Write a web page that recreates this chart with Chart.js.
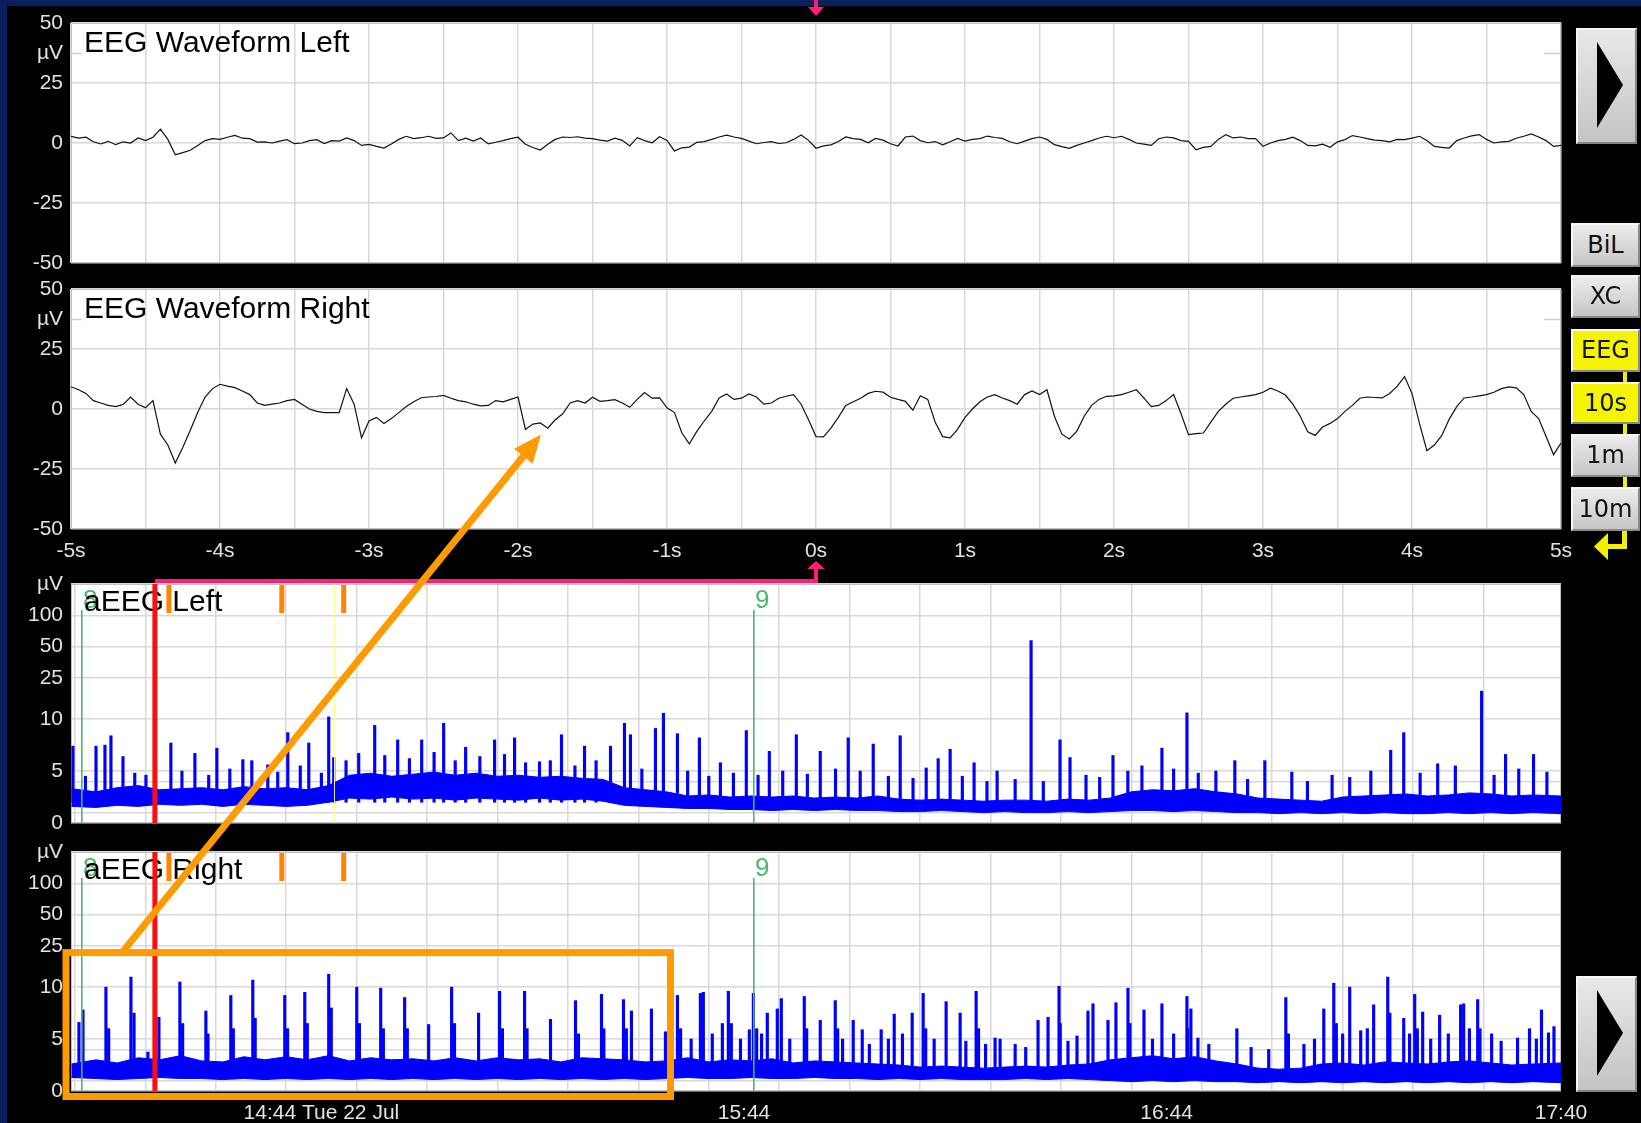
<!DOCTYPE html>
<html>
<head>
<meta charset="utf-8">
<title>EEG / aEEG monitor</title>
<script src="https://cdn.jsdelivr.net/npm/chart.js@4/dist/chart.umd.min.js"></script>
<style>
  html, body { margin: 0; padding: 0; background: #000; }
  #screen { position: relative; width: 1641px; height: 1123px; background: #000; overflow: hidden; font-family: "Liberation Sans", Arial, sans-serif; }
  #frameTop { position: absolute; left: 0; top: 0; width: 1641px; height: 6px; background: #0b1f5e; }
  #frameLeft { position: absolute; left: 0; top: 0; width: 7px; height: 1123px; background: #0b1f5e; }
  canvas.panel { position: absolute; left: 0; }
  #overlay { position: absolute; left: 0; top: 0; pointer-events: none; z-index: 5; }
  .btn { position: absolute; box-sizing: border-box; left: 1571px; width: 69px;
         background: linear-gradient(#ececec, #c6c6c6); border: 2px solid #8a8a8a;
         border-top-color: #f6f6f6; border-left-color: #f6f6f6;
         color: #111; font-family: "DejaVu Sans", sans-serif; font-size: 24px; text-align: center; }
  .btn.on { background: #f4f400; }
  .play { position: absolute; box-sizing: border-box; left: 1576px; width: 61px; height: 116px;
          background: linear-gradient(#e8e8e8, #c4c4c4); border: 2px solid #858585;
          border-top-color: #f6f6f6; border-left-color: #f6f6f6; }
  .play .tri { position: absolute; left: 19px; top: 12px; width: 26px; height: 86px; background: #000;
               clip-path: polygon(0 0, 100% 50%, 0 100%); }
  .ylink { position: absolute; background: #f0f000; }
</style>
</head>
<body>
<div id="screen">
  <div id="frameTop"></div>
  <div id="frameLeft"></div>
  <canvas class="panel" id="eegLeftPanel" width="1600" height="276" style="top:0px"></canvas>
  <canvas class="panel" id="eegRightPanel" width="1600" height="290" style="top:276px"></canvas>
  <canvas class="panel" id="aeegLeftPanel" width="1600" height="270" style="top:566px"></canvas>
  <canvas class="panel" id="aeegRightPanel" width="1600" height="287" style="top:836px"></canvas>
  <canvas id="overlay" width="1641" height="1123"></canvas>

  <div class="play" style="top:28px"><div class="tri"></div></div>
  <div class="btn" style="top:223px;height:44px;line-height:40px">BiL</div>
  <div class="btn" style="top:275px;height:43px;line-height:39px">XC</div>
  <div class="btn on" style="top:329px;height:43px;line-height:39px">EEG</div>
  <div class="btn on" style="top:382px;height:42px;line-height:38px">10s</div>
  <div class="btn" style="top:434px;height:43px;line-height:39px">1m</div>
  <div class="btn" style="top:487px;height:44px;line-height:40px">10m</div>
  <div class="ylink" style="left:1623px;top:372px;width:4px;height:10px"></div>
  <div class="ylink" style="left:1623px;top:424px;width:4px;height:10px"></div>
  <div class="ylink" style="left:1623px;top:477px;width:4px;height:10px"></div>
  <div class="ylink" style="left:1622px;top:531px;width:5px;height:18px"></div>
  <div class="ylink" style="left:1604px;top:544px;width:23px;height:5px"></div>
  <div class="ylink" style="left:1594px;top:533px;width:14px;height:27px;clip-path:polygon(0 50%,100% 0,100% 100%)"></div>
  <div class="play" style="top:976px"><div class="tri"></div></div>
</div>

<script>
// ---------- raw EEG, µV, one sample every 50 ms from -5 s to +5 s ----------
const eegStart = -5;
const eegStep = 0.05;
const eegLeftUv = [
  2.8, 2.0, 2.4, 0.5, -0.4, 0.7, -0.7, 0.5, 0.0, 2.1,
  1.0, 2.4, 5.8, 1.5, -4.9, -4.0, -3.0, -1.0, 1.0, 1.8,
  1.5, 2.4, 3.2, 2.0, 1.8, 0.4, 0.5, 0.0, 0.8, 1.4,
  -0.3, 0.0, 1.0, 1.4, -0.2, 1.0, 0.8, 2.1, 1.0, -1.0,
  -0.6, -1.4, -2.1, -0.4, 1.5, 2.8, 1.8, 2.2, 2.8, 1.9,
  2.1, 4.2, 1.0, 2.0, 0.8, 2.1, -0.4, 0.3, 1.0, 1.8,
  2.4, -0.5, -1.9, -2.9, -0.5, 1.5, 2.5, 2.3, 2.6, 2.0,
  1.8, 1.2, 0.8, 2.0, 1.1, -1.25, 2.2, 1.0, 0.1, 2.6,
  1.1, -3.3, -2.0, -1.7, 0.3, 0.6, 1.5, 2.5, 3.3, 2.5,
  1.9, 0.8, -0.3, 0.2, 0.6, -0.2, 0.1, 1.5, 3.3, 1.1,
  -2.2, -1.2, -0.8, 0.6, 2.5, 1.8, 1.5, 0.1, 1.9, 1.2,
  -0.3, -1.25, 2.5, 2.9, 1.0, 0.1, 0.6, -0.8, 0.5, 1.9,
  0.8, 1.5, 1.8, 2.9, 2.3, 1.9, 0.5, -0.3, 0.8, 1.8,
  2.5, 1.5, -0.7, -1.5, -2.2, -1.0, 0.0, 1.0, 2.1, 2.8,
  2.2, 2.8, 1.5, 0.0, -0.5, -1.0, 1.8, 2.5, 2.1, 1.0,
  0.7, -2.8, -1.8, -1.4, 1.5, 3.5, 2.1, 2.5, 1.8, 1.8,
  -1.4, 0.0, 1.0, 1.5, 2.4, 1.0, -1.0, -1.2, -0.5, -1.8,
  0.5, 1.4, 3.1, 2.5, 1.8, 1.2, 1.0, 0.5, 1.5, 1.4,
  2.0, 2.8, 1.0, -1.4, -1.8, -2.1, 1.0, 2.1, 3.0, 3.5,
  1.5, 0.0, 0.5, 0.7, 2.0, 2.8, 3.75, 2.5, 1.0, -1.4,
  -1.0
];
const eegRightUv = [
  9.3, 8.0, 6.5, 3.5, 2.5, 1.5, 1.0, 1.9, 5.0, 2.0,
  0.5, 3.5, -10.5, -15.0, -22.5, -16.0, -9.0, -1.5, 5.0, 8.5,
  10.3, 9.5, 8.9, 7.5, 6.0, 2.5, 1.5, 2.0, 2.5, 3.5,
  4.0, 2.0, 0.0, -1.0, -1.5, -1.5, -1.5, 8.5, 2.0, -12.0,
  -5.0, -3.5, -6.0, -4.0, -1.5, 1.0, 3.0, 4.7, 5.0, 5.2,
  5.7, 4.5, 3.5, 3.0, 2.0, 1.3, 1.5, 3.5, 3.0, 4.0,
  5.0, -8.5, -6.3, -5.8, -8.0, -4.5, -2.0, 2.5, 3.5, 2.5,
  4.9, 3.2, 3.5, 3.9, 2.5, 0.7, 4.0, 6.9, 4.5, 4.6,
  0.5, -1.5, -10.0, -14.5, -9.3, -5.0, -1.0, 4.6, 6.25, 4.0,
  4.5, 6.25, 5.0, 2.0, 2.5, 4.5, 5.3, 6.0, 2.0, -4.5,
  -11.5, -11.6, -8.0, -3.5, 1.5, 3.0, 4.5, 6.5, 7.4, 7.0,
  4.9, 4.0, 3.2, -0.5, 5.5, 4.0, -5.5, -11.5, -12.0, -8.5,
  -3.5, 0.0, 3.0, 5.0, 6.0, 4.6, 3.5, 2.0, 6.0, 7.5,
  6.0, 8.0, -3.0, -10.5, -12.5, -9.3, -3.0, 1.5, 4.0, 5.3,
  5.5, 6.0, 7.0, 8.0, 4.6, 1.0, 1.5, 3.5, 6.0, -2.0,
  -10.7, -10.3, -10.0, -5.5, -1.0, 2.0, 4.5, 5.0, 5.5, 6.0,
  7.0, 8.7, 7.5, 5.8, 2.0, -3.0, -9.5, -11.0, -7.5, -6.0,
  -4.0, -1.0, 1.5, 4.5, 5.0, 4.8, 4.6, 6.5, 9.4, 13.5,
  6.5, -6.0, -17.4, -15.0, -11.0, -4.2, 1.0, 4.6, 5.0, 5.5,
  6.0, 7.0, 8.5, 9.2, 8.8, 6.0, -1.0, -4.0, -11.5, -19.0,
  -14.2
];
const eegAxisUv = [-50, -25, 0, 25, 37.5, 50];
const eegAxisLabels = ['-50', '-25', '0', '25', 'µV', '50'];

// ---------- amplitude-integrated EEG, minutes after 14:00 ----------
const aeegStartMinute = 8.45;
const aeegEndMinute = 220;
const aeegBinMinutes = [
  8.5, 12, 15, 18, 21, 24, 27, 30, 33, 36,
  39, 42, 45, 48, 51, 54, 57, 60, 63, 66,
  69, 72, 75, 78, 81, 84, 87, 90, 93, 96,
  99, 102, 105, 108, 111, 114, 117, 120, 123, 126,
  129, 132, 135, 138, 141, 144, 147, 150, 153, 156,
  159, 162, 165, 168, 171, 174, 177, 180, 183, 186,
  189, 192, 195, 198, 201, 204, 207, 210, 213, 216,
  220
];
const aeegLeftLow = [
  1.6, 1.5, 1.7, 1.6, 1.8, 1.7, 1.8, 1.6, 1.8, 1.7,
  1.6, 1.7, 2.0, 2.4, 2.3, 2.5, 2.3, 2.4, 2.2, 2.4,
  2.3, 2.2, 2.4, 2.2, 2.3, 2.1, 1.7, 1.6, 1.5, 1.4,
  1.4, 1.3, 1.3, 1.2, 1.3, 1.2, 1.3, 1.2, 1.2, 1.1,
  1.1, 1.2, 1.1, 1.0, 1.1, 1.0, 1.0, 1.1, 1.0, 1.1,
  1.2, 1.2, 1.1, 1.2, 1.1, 1.0, 1.0, 0.9, 1.0, 0.9,
  1.0, 0.9, 1.0, 0.9, 0.9, 1.0, 0.9, 1.0, 0.9, 1.0,
  0.9
];
const aeegLeftHigh = [
  3.3, 3.0, 3.4, 3.6, 3.2, 3.3, 3.4, 3.2, 3.5, 3.3,
  3.4, 3.2, 3.6, 4.6, 4.8, 4.5, 4.7, 4.9, 4.6, 4.8,
  4.5, 4.6, 4.4, 4.5, 4.3, 4.2, 3.4, 3.2, 3.0, 2.6,
  2.7, 2.5, 2.6, 2.5, 2.6, 2.4, 2.5, 2.4, 2.6, 2.3,
  2.2, 2.3, 2.2, 2.1, 2.2, 2.2, 2.1, 2.3, 2.2, 2.4,
  3.0, 3.2, 3.1, 3.3, 3.0, 2.8, 2.4, 2.3, 2.2, 2.1,
  2.5, 2.6, 2.7, 2.8, 2.6, 2.7, 2.9, 2.8, 2.6, 2.7,
  2.6
];
const aeegRightLow = [
  1.3, 1.2, 1.1, 1.2, 1.3, 1.2, 1.2, 1.1, 1.2, 1.1,
  1.2, 1.1, 1.2, 1.1, 1.2, 1.1, 1.2, 1.1, 1.2, 1.1,
  1.2, 1.1, 1.2, 1.1, 1.2, 1.1, 1.2, 1.1, 1.2, 1.3,
  1.2, 1.2, 1.3, 1.2, 1.2, 1.3, 1.2, 1.2, 1.1, 1.2,
  1.1, 1.2, 1.1, 1.1, 1.1, 1.2, 1.1, 1.2, 1.1, 1.0,
  0.9, 1.0, 0.9, 1.0, 0.9, 0.9, 0.8, 0.9, 0.8, 0.9,
  0.8, 0.9, 0.8, 0.9, 0.8, 0.9, 0.8, 0.9, 0.8, 0.9,
  0.8
];
const aeegRightHigh = [
  2.6, 3.0, 2.7, 3.2, 3.0, 3.4, 2.9, 2.8, 3.3, 3.0,
  3.3, 3.0, 3.4, 2.9, 3.2, 3.0, 3.1, 2.9, 3.2, 2.9,
  3.2, 3.0, 3.1, 2.8, 3.2, 3.1, 3.0, 2.8, 2.9, 3.2,
  2.8, 3.0, 2.9, 3.1, 2.7, 2.9, 2.8, 2.7, 2.6, 2.5,
  2.3, 2.4, 2.3, 2.2, 2.3, 2.4, 2.3, 2.5, 2.6, 3.0,
  3.2, 3.4, 3.1, 3.3, 2.9, 2.6, 2.2, 2.1, 2.2, 2.6,
  2.7, 2.5, 2.8, 2.7, 2.6, 2.8, 2.9, 2.7, 2.5, 2.6,
  2.7
];
// bursts: [minute, peak µV]
const aeegLeftSpikes = [
  [8.73, 7.4], [10.5, 4.5], [12.0, 7.4], [13.27, 7.5], [14.12, 8.4], [15.83, 6.4], [17.5, 4.8], [19.09, 4.6],
  [22.63, 7.7], [24.2, 5.0], [26.04, 6.7], [28.0, 4.6], [29.16, 7.2], [31.0, 5.2], [32.85, 6.1], [34.12, 6.0],
  [36.39, 5.6], [37.8, 4.9], [39.23, 8.7], [41.0, 5.5], [42.21, 7.7], [44.0, 4.8], [45.04, 10.5], [45.75, 6.3],
  [47.5, 6.0], [49.3, 6.7], [51.57, 9.4], [53.0, 6.5], [54.83, 8.0], [56.5, 6.2], [58.24, 8.0], [60.0, 6.8],
  [61.36, 9.6], [63.0, 6.0], [64.48, 7.3], [66.5, 6.4], [68.59, 8.0], [70.0, 6.6], [71.43, 8.2], [72.99, 5.8],
  [74.97, 5.9], [76.5, 6.0], [78.09, 8.5], [80.0, 5.5], [81.36, 7.4], [83.0, 6.0], [85.05, 7.4], [87.03, 9.6],
  [87.88, 8.5], [89.5, 5.2], [91.43, 9.1], [92.56, 11.4], [94.55, 8.6], [96.0, 5.0], [97.67, 8.2], [99.0, 4.5],
  [100.65, 5.8], [102.5, 4.8], [104.33, 8.9], [106.0, 4.6], [107.6, 6.9], [109.5, 5.0], [111.43, 8.5], [113.0, 4.7],
  [114.83, 6.9], [117.0, 5.2], [118.8, 8.2], [120.5, 5.0], [122.35, 7.6], [124.5, 4.5], [126.18, 8.4], [128.0, 4.3],
  [129.87, 5.3], [131.57, 6.2], [133.27, 7.1], [135.0, 4.5], [136.67, 5.8], [138.5, 4.0], [139.94, 5.0], [142.5, 4.2],
  [144.76, 57], [146.5, 4.0], [148.87, 8.0], [150.29, 6.3], [152.56, 4.6], [154.5, 4.4], [156.39, 6.5], [158.5, 5.0],
  [160.5, 5.5], [163.34, 7.2], [165.0, 5.2], [166.89, 11.5], [168.5, 4.8], [171.0, 5.0], [173.69, 6.0], [175.5, 4.2],
  [177.95, 6.0], [181.78, 4.9], [184.0, 4.0], [187.5, 4.6], [190.0, 4.4], [193.0, 5.0], [195.82, 7.0], [197.67, 8.7],
  [200.0, 4.8], [202.49, 5.7], [205.0, 5.5], [208.73, 18.6], [210.5, 4.6], [212.13, 6.6], [214.0, 5.2], [216.1, 6.6],
  [218.0, 4.9]
];
const aeegRightSpikes = [
  [9.58, 6.6], [10.15, 7.8], [13.41, 10.0], [13.8, 6.0], [16.96, 12.5], [17.4, 7.5], [19.37, 3.75], [20.93, 7.1],
  [23.91, 11.2], [24.3, 6.5], [27.6, 7.7], [27.9, 5.5], [31.14, 9.2], [31.5, 6.0], [34.26, 11.7], [34.6, 7.0],
  [38.8, 9.2], [39.2, 6.0], [41.64, 9.5], [42.0, 6.5], [45.04, 13.3], [45.4, 8.0], [49.02, 10.0], [49.4, 6.5],
  [52.42, 9.9], [52.8, 6.0], [55.82, 9.0], [56.2, 6.0], [59.23, 6.4], [62.49, 10.0], [62.9, 6.5], [66.32, 7.5],
  [69.3, 9.6], [69.7, 6.0], [72.85, 9.6], [73.2, 6.0], [76.53, 6.9], [80.08, 8.7], [80.5, 5.5], [83.77, 9.3],
  [84.1, 6.0], [86.89, 8.8], [87.3, 6.0], [88.02, 7.7], [90.86, 7.9], [92.85, 5.7], [94.55, 9.2], [95.0, 6.0],
  [96.5, 5.0], [97.81, 9.4], [98.23, 9.5], [99.5, 5.5], [100.93, 6.5], [101.78, 9.6], [102.2, 6.5], [103.5, 5.0],
  [104.76, 5.9], [105.33, 9.4], [105.8, 6.0], [106.5, 5.5], [107.31, 7.5], [108.73, 7.9], [109.3, 8.9], [110.5, 5.0],
  [112.56, 9.1], [112.9, 6.0], [114.83, 6.8], [116.96, 8.7], [117.3, 6.0], [118.0, 5.0], [119.51, 6.8], [120.79, 5.9],
  [121.8, 4.5], [123.48, 5.9], [124.5, 5.0], [125.33, 7.4], [126.5, 5.5], [127.88, 7.5], [129.44, 9.4], [129.8, 6.0],
  [131.0, 5.0], [132.7, 8.6], [134.69, 7.5], [135.5, 4.8], [136.96, 9.6], [137.3, 6.0], [138.3, 4.5], [139.65, 5.1],
  [140.36, 5.0], [142.5, 4.5], [144.0, 4.2], [145.75, 6.8], [147.17, 7.1], [148.73, 10.2], [148.9, 6.5], [150.0, 4.8],
  [151.28, 5.3], [152.84, 7.7], [153.55, 8.4], [155.68, 6.8], [156.81, 8.5], [158.52, 9.9], [158.8, 6.5], [160.79, 7.8],
  [162.0, 5.0], [163.34, 8.4], [165.0, 5.5], [166.89, 9.1], [167.0, 6.0], [167.45, 7.9], [168.45, 5.1], [170.0, 4.5],
  [173.98, 6.0], [176.0, 4.2], [178.5, 4.0], [180.93, 9.0], [181.3, 5.5], [183.5, 4.5], [185.0, 5.0], [186.32, 7.9],
  [187.74, 10.9], [188.1, 6.5], [189.0, 5.5], [190.0, 10.0], [191.56, 5.8], [192.5, 6.0], [193.4, 8.3], [195.4, 12.5],
  [195.7, 7.5], [197.67, 7.0], [198.5, 5.5], [199.23, 9.3], [199.6, 6.0], [200.36, 7.6], [201.5, 5.0], [202.77, 7.3],
  [204.0, 5.5], [205.75, 8.3], [206.18, 8.4], [207.0, 6.0], [208.17, 8.8], [208.5, 6.0], [210.15, 5.5], [211.5, 4.8],
  [213.83, 5.1], [215.53, 6.0], [216.5, 5.0], [217.23, 7.8], [218.22, 5.6], [219.0, 6.2]
];
const aeegSpikeBaseUv = 2;
const aeegAxisUv = [0, 1, 4, 5, 10, 25, 50, 100, 200];
const aeegAxisLabels = ['0', '', '', '5', '10', '25', '50', '100', 'µV'];
const aeegTimeTicks = [44, 104, 164, 220];
const aeegTimeLabels = ['14:44 Tue 22 Jul', '15:44', '16:44', '17:40'];

// ---------- trend annotations ----------
const cursorMinute = 20.36;
const trendMarkMinutes = [22.35, 38.38, 47.17];
const eventMinutes = [10.01, 105.47];
const eventLabels = ['8', '9'];
const noteMinute = 45.75;
const calloutBox = { fromMinute: 7.74, toMinute: 93.57, topUv: 21.5, bottomUv: -0.53 };
const calloutArrow = { fromMinute: 15.69, toSecond: -1.846, toUv: -10.6 };

// ---------- styling ----------
const gridColor = '#d8d8d8';
const traceBlue = '#0000ff';
const eventColor = '#4cb86c';
const linkColor = '#ff1f78';
const calloutColor = '#ff9a00';
const markColor = '#ff8400';

// semi-log aEEG axis: linear 0–10 µV, logarithmic above 10 µV
const aeegToAxis = v => (v <= 10 ? v / 10 : 1 + Math.log10(v / 10));

Chart.defaults.font.family = '"Liberation Sans", Arial, sans-serif';
Chart.defaults.font.size = 21;
Chart.defaults.color = '#e2e2e2';
Chart.defaults.animation = false;
Chart.defaults.plugins.legend.display = false;
Chart.defaults.plugins.tooltip.enabled = false;

const panelDeco = {
  id: 'panelDeco',
  beforeDraw(chart) {
    const a = chart.chartArea, ctx = chart.ctx;
    ctx.save();
    ctx.fillStyle = '#ffffff';
    ctx.fillRect(a.left, a.top, a.right - a.left, a.bottom - a.top);
    ctx.restore();
  },
  beforeDatasetsDraw(chart, args, o) {
    const a = chart.chartArea, ctx = chart.ctx;
    ctx.save();
    ctx.strokeStyle = '#c2c2c2';
    ctx.lineWidth = 1;
    ctx.strokeRect(a.left + 0.5, a.top + 0.5, a.right - a.left - 1, a.bottom - a.top - 1);
    if (o.unitMark != null) {
      const y = Math.round(chart.scales.y.getPixelForValue(o.unitMark)) + 0.5;
      ctx.strokeStyle = '#cfcfcf';
      ctx.lineWidth = 1.5;
      ctx.beginPath();
      ctx.moveTo(a.left, y); ctx.lineTo(a.left + 11, y);
      ctx.moveTo(a.right - 17, y); ctx.lineTo(a.right, y);
      ctx.stroke();
    }
    ctx.restore();
  },
  afterDatasetsDraw(chart, args, o) {
    const a = chart.chartArea, ctx = chart.ctx, xs = chart.scales.x;
    ctx.save();
    ctx.beginPath();
    ctx.rect(a.left, a.top, a.right - a.left, a.bottom - a.top);
    ctx.clip();
    if (o.note) {
      const x = Math.round(xs.getPixelForValue(noteMinute)) + 0.5;
      ctx.strokeStyle = 'rgba(255,255,140,0.9)';
      ctx.lineWidth = 1;
      ctx.beginPath(); ctx.moveTo(x, a.top); ctx.lineTo(x, a.bottom); ctx.stroke();
    }
    if (o.events) {
      ctx.font = '26px "Liberation Sans", Arial, sans-serif';
      ctx.textAlign = 'left';
      ctx.textBaseline = 'alphabetic';
      eventMinutes.forEach((m, i) => {
        const x = Math.round(xs.getPixelForValue(m));
        ctx.fillStyle = eventColor;
        ctx.fillRect(x - 1, a.top + 26, 1.6, a.bottom - a.top - 26);
        ctx.fillText(eventLabels[i], x + 1, a.top + 24);
      });
    }
    ctx.fillStyle = '#000';
    ctx.font = '30px "Liberation Sans", Arial, sans-serif';
    ctx.textAlign = 'left';
    ctx.textBaseline = 'alphabetic';
    ctx.fillText(o.title, a.left + 13, a.top + o.titleBase);
    if (o.cursor) {
      const x = xs.getPixelForValue(cursorMinute);
      ctx.fillStyle = '#f80f0f';
      ctx.fillRect(x - 2.5, a.top, 5, a.bottom - a.top);
    }
    if (o.marks) {
      ctx.fillStyle = markColor;
      trendMarkMinutes.forEach(m => {
        const x = xs.getPixelForValue(m);
        ctx.fillRect(x - 2.5, a.top + 1, 5, 28);
      });
    }
    ctx.restore();
  }
};

// fixed-width value axis; its label overflow is covered by the layout padding
function fixYAxis(s) {
  s.width = 71;
  s.paddingTop = 0;
  s.paddingBottom = 0;
}

function eegYAxis() {
  return {
    type: 'linear', min: -50, max: 50,
    afterBuildTicks: s => { s.ticks = eegAxisUv.map(v => ({ value: v })); },
    afterFit: fixYAxis,
    ticks: { padding: 8, callback: v => eegAxisLabels[eegAxisUv.indexOf(v)] },
    grid: { drawTicks: false, lineWidth: 1.5,
            color: c => (c.tick && c.tick.value === 37.5) ? 'rgba(0,0,0,0)' : gridColor },
    border: { display: false }
  };
}
function eegXAxis(showLabels) {
  return {
    type: 'linear', min: -5, max: 5,
    afterFit: s => { s.height = showLabels ? 37 : 0; },
    ticks: { display: showLabels, stepSize: 0.5, autoSkip: false, maxRotation: 0, padding: 10,
             callback: v => (Number.isInteger(v) ? (v === 0 ? '0' : v) + 's' : '') },
    grid: { drawTicks: false, lineWidth: 1.5, color: gridColor },
    border: { display: false }
  };
}
function aeegYAxis() {
  return {
    type: 'linear', min: 0, max: aeegToAxis(200),
    afterBuildTicks: s => { s.ticks = aeegAxisUv.map(v => ({ value: aeegToAxis(v) })); },
    afterFit: fixYAxis,
    ticks: { padding: 8, callback: (v, i) => aeegAxisLabels[i] },
    grid: { drawTicks: false, lineWidth: 1.5, color: gridColor },
    border: { display: false }
  };
}
function aeegXAxis(showLabels) {
  return {
    type: 'linear', min: aeegStartMinute, max: aeegEndMinute,
    afterBuildTicks: s => {
      const t = [];
      for (let m = 14; m < aeegEndMinute; m += 10) t.push({ value: m });
      t.push({ value: aeegEndMinute });
      s.ticks = t;
    },
    afterFit: s => { s.height = showLabels ? 32 : 0; },
    ticks: { display: showLabels, autoSkip: false, maxRotation: 0, padding: 10,
             callback: v => { const i = aeegTimeTicks.indexOf(v); return i < 0 ? '' : aeegTimeLabels[i]; } },
    grid: { drawTicks: false, lineWidth: 1.5,
            color: c => (c.tick && c.tick.value === aeegEndMinute) ? 'rgba(0,0,0,0)' : gridColor },
    border: { display: false }
  };
}

const eegPoints = vals => vals.map((v, i) => ({ x: eegStart + i * eegStep, y: v }));

function eegChart(id, values, title, showLabels, pad) {
  return new Chart(document.getElementById(id), {
    type: 'line',
    data: { datasets: [{ data: eegPoints(values), borderColor: '#111', borderWidth: 1.2,
                         pointRadius: 0, tension: 0, fill: false }] },
    options: {
      responsive: false, devicePixelRatio: 1,
      layout: { padding: pad },
      scales: { x: eegXAxis(showLabels), y: eegYAxis() },
      plugins: { panelDeco: { title: title, titleBase: 29, unitMark: 37.5 } }
    },
    plugins: [panelDeco]
  });
}

function aeegChart(id, low, high, spikes, title, showLabels, pad, extra) {
  return new Chart(document.getElementById(id), {
    type: 'line',
    data: { datasets: [
      { type: 'line', data: aeegBinMinutes.map((m, i) => ({ x: m, y: aeegToAxis(low[i]) })),
        borderColor: traceBlue, borderWidth: 1, pointRadius: 0, tension: 0, fill: false },
      { type: 'line', data: aeegBinMinutes.map((m, i) => ({ x: m, y: aeegToAxis(high[i]) })),
        borderColor: traceBlue, borderWidth: 1, pointRadius: 0, tension: 0, fill: '-1',
        backgroundColor: traceBlue },
      { type: 'bar', data: spikes.map(([m, p]) => ({ x: m, y: [aeegToAxis(aeegSpikeBaseUv), aeegToAxis(p)] })),
        backgroundColor: traceBlue, barThickness: 2.5, grouped: false }
    ] },
    options: {
      responsive: false, devicePixelRatio: 1,
      layout: { padding: pad },
      scales: { x: Object.assign(aeegXAxis(showLabels), { offset: false }), y: aeegYAxis() },
      plugins: { panelDeco: Object.assign({ title: title, titleBase: 27, events: true, cursor: true, marks: true }, extra) }
    },
    plugins: [panelDeco]
  });
}

const chartA = eegChart('eegLeftPanel', eegLeftUv, 'EEG Waveform Left', false,
  { top: 23, right: 39, bottom: 13, left: 0 });
const chartB = eegChart('eegRightPanel', eegRightUv, 'EEG Waveform Right', true,
  { top: 13, right: 39, bottom: 0, left: 0 });
const chartC = aeegChart('aeegLeftPanel', aeegLeftLow, aeegLeftHigh, aeegLeftSpikes, 'aEEG Left', false,
  { top: 18, right: 39, bottom: 13, left: 0 }, { note: true });
const chartD = aeegChart('aeegRightPanel', aeegRightLow, aeegRightHigh, aeegRightSpikes, 'aEEG Right', true,
  { top: 16, right: 39, bottom: 0, left: 0 }, {});

// cursor link, top marker and callout drawn across the panels
function drawOverlay() {
  const ctx = document.getElementById('overlay').getContext('2d');
  const top = ch => ch.canvas.offsetTop;
  const zeroX = chartB.scales.x.getPixelForValue(0);
  const curX = chartC.scales.x.getPixelForValue(cursorMinute);
  const linkY = top(chartC) + chartC.chartArea.top - 3;

  ctx.fillStyle = linkColor;
  ctx.fillRect(curX, linkY - 2, zeroX - curX + 2, 4);
  ctx.fillRect(zeroX - 2, linkY - 13, 4, 15);
  ctx.beginPath();
  ctx.moveTo(zeroX - 9, linkY - 12); ctx.lineTo(zeroX + 9, linkY - 12); ctx.lineTo(zeroX, linkY - 20);
  ctx.closePath(); ctx.fill();

  ctx.fillRect(zeroX - 2, 0, 4, 8);
  ctx.beginPath();
  ctx.moveTo(zeroX - 8, 7); ctx.lineTo(zeroX + 8, 7); ctx.lineTo(zeroX, 16);
  ctx.closePath(); ctx.fill();

  const dX = m => chartD.scales.x.getPixelForValue(m);
  const dY = v => top(chartD) + chartD.scales.y.getPixelForValue(aeegToAxis(v));
  const x0 = dX(calloutBox.fromMinute), x1 = dX(calloutBox.toMinute);
  const y0 = dY(calloutBox.topUv), y1 = dY(calloutBox.bottomUv);
  ctx.strokeStyle = calloutColor;
  ctx.lineWidth = 7;
  ctx.strokeRect(x0, y0, x1 - x0, y1 - y0);

  const sx = dX(calloutArrow.fromMinute), sy = y0;
  const tx = chartB.scales.x.getPixelForValue(calloutArrow.toSecond);
  const ty = top(chartB) + chartB.scales.y.getPixelForValue(calloutArrow.toUv);
  const ang = Math.atan2(ty - sy, tx - sx), head = 28, half = 12;
  const hx = tx - head * Math.cos(ang), hy = ty - head * Math.sin(ang);
  ctx.lineWidth = 7;
  ctx.beginPath(); ctx.moveTo(sx, sy); ctx.lineTo(hx, hy); ctx.stroke();
  ctx.fillStyle = calloutColor;
  ctx.beginPath();
  ctx.moveTo(tx, ty);
  ctx.lineTo(hx + half * Math.sin(ang), hy - half * Math.cos(ang));
  ctx.lineTo(hx - half * Math.sin(ang), hy + half * Math.cos(ang));
  ctx.closePath(); ctx.fill();
}
drawOverlay();
</script>
</body>
</html>
